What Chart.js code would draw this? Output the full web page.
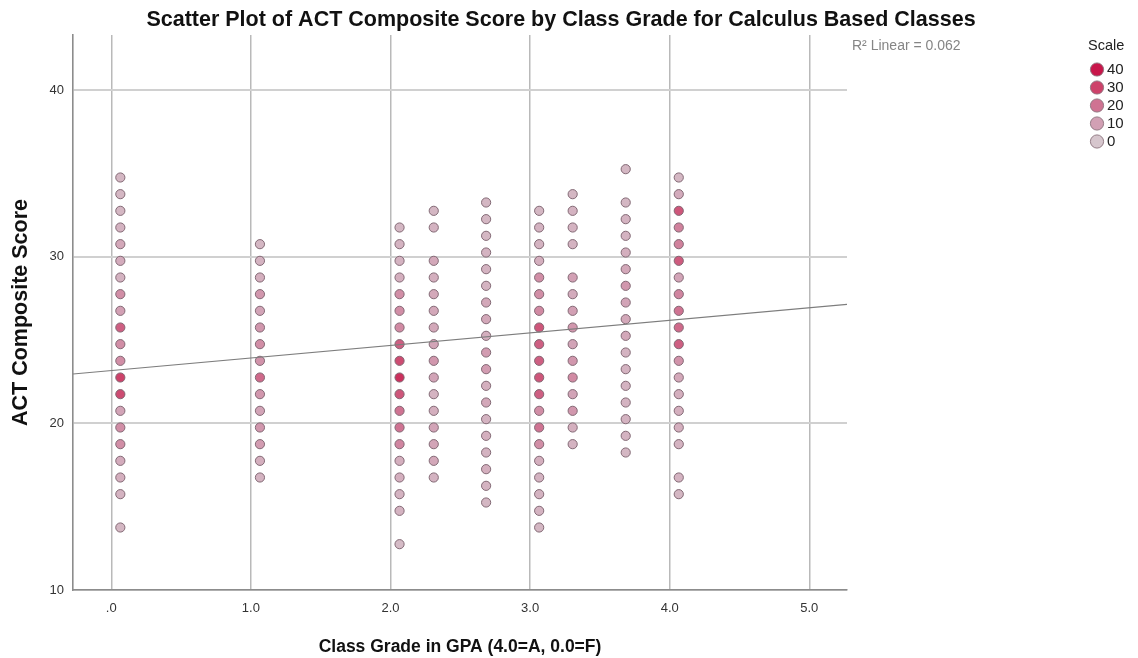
<!DOCTYPE html>
<html><head><meta charset="utf-8">
<script src="https://cdn.jsdelivr.net/npm/chart.js@4"></script>
<style>html,body{margin:0;padding:0;background:#fff}canvas{display:block}</style>
</head><body>
<canvas id="c" width="1138" height="658"></canvas>
<script>
// ---- data ----
const gradeX = [0.065, 1.065, 2.065, 2.31, 2.685, 3.065, 3.305, 3.685, 4.065];
const actF  = [34.75,33.75,32.75,31.75,30.75,29.75,28.75,27.75,26.75,25.75,24.75,23.75,22.75,21.75,20.75,19.75,18.75,17.75,16.75,15.75,13.75];
const cntF  = [4,4,4,5,8,7,5,14,10,24,14,14,30,28,9,14,14,7,6,5,4];
const actD  = [30.75,29.75,28.75,27.75,26.75,25.75,24.75,23.75,22.75,21.75,20.75,19.75,18.75,17.75,16.75];
const cntD  = [4,5,6,12,9,12,14,13,22,12,9,12,11,6,5];
const actC  = [31.75,30.75,29.75,28.75,27.75,26.75,25.75,24.75,23.75,22.75,21.75,20.75,19.75,18.75,17.75,16.75,15.75,14.75,12.75];
const cntC  = [4,5,5,6,14,14,15,24,28,34,26,20,20,16,6,6,5,5,3];
const actCp = [32.75,31.75,29.75,28.75,27.75,26.75,25.75,24.75,23.75,22.75,21.75,20.75,19.75,18.75,17.75,16.75];
const cntCp = [4,5,8,6,8,8,8,9,12,9,5,6,9,9,8,5];
const actBm = [33.25,32.25,31.25,30.25,29.25,28.25,27.25,26.25,25.25,24.25,23.25,22.25,21.25,20.25,19.25,18.25,17.25,16.25,15.25];
const cntBm = [4,4,4,5,5,5,8,8,6,11,11,6,8,5,6,5,6,5,4];
const actB  = [32.75,31.75,30.75,29.75,28.75,27.75,26.75,25.75,24.75,23.75,22.75,21.75,20.75,19.75,18.75,17.75,16.75,15.75,14.75,13.75];
const cntB  = [4,5,5,6,14,14,15,26,24,24,26,24,14,20,14,6,5,5,5,4];
const actBp = [33.75,32.75,31.75,30.75,28.75,27.75,26.75,25.75,24.75,23.75,22.75,21.75,20.75,19.75,18.75];
const cntBp = [4,5,5,5,10,7,10,12,9,12,15,9,12,6,5];
const actAm = [35.25,33.25,32.25,31.25,30.25,29.25,28.25,27.25,26.25,25.25,24.25,23.25,22.25,21.25,20.25,19.25,18.25];
const cntAm = [4,4,5,5,6,8,12,9,8,8,5,5,5,5,5,5,4];
const actA  = [34.75,33.75,32.75,31.75,30.75,29.75,28.75,27.75,26.75,25.75,24.75,23.75,22.75,21.75,20.75,19.75,18.75,16.75,15.75];
const cntA  = [4,7,26,17,17,25,9,16,20,22,24,13,8,6,6,6,5,5,4];
const fitLine = [{x:-0.274, y:22.96}, {x:5.27, y:27.14}];
const rSquared = '0.062';
const xTicks = [0,1,2,3,4,5];
const xTickLabels = ['.0','1.0','2.0','3.0','4.0','5.0'];
const yTicks = [10,20,30,40];
const legendValues = [40,30,20,10,0];

const columns = [
  [actF,cntF],[actD,cntD],[actC,cntC],[actCp,cntCp],[actBm,cntBm],
  [actB,cntB],[actBp,cntBp],[actAm,cntAm],[actA,cntA]
];

// colour scale for "Scale" (counts)
const stops = [[0,[214,198,205]],[10,[210,160,180]],[20,[207,115,146]],[30,[205,66,106]],[40,[200,22,74]]];
function scaleColor(v){
  for(let i=0;i<stops.length-1;i++){
    const [a,ca]=stops[i],[b,cb]=stops[i+1];
    if(v<=b||i===stops.length-2){
      const t=Math.max(0,Math.min(1,(v-a)/(b-a)));
      const c=ca.map((x,k)=>Math.round(x+(cb[k]-x)*t));
      return `rgb(${c[0]},${c[1]},${c[2]})`;
    }
  }
}

const FONT = '"Liberation Sans", Arial, sans-serif';

const datasets = columns.map(([ys,cs],i)=>({
  type:'scatter',
  data: ys.map(y=>({x:gradeX[i], y})),
  pointRadius:4.6,
  pointHoverRadius:4.6,
  pointBorderWidth:1,
  pointBorderColor:'rgba(125,100,112,0.95)',
  pointBackgroundColor: cs.map(scaleColor),
  order:2
}));
datasets.push({
  type:'line',
  data: fitLine,
  borderColor:'#7d7d7d',
  borderWidth:1.2,
  pointRadius:0,
  fill:false,
  order:1
});

const textPlugin = {
  id:'texts',
  afterDraw(chart){
    const ctx=chart.ctx;
    ctx.save();
    ctx.fillStyle='#111';
    ctx.font='bold 21.5px '+FONT;
    ctx.textAlign='center'; ctx.textBaseline='middle';
    ctx.fillText('Scatter Plot of ACT Composite Score by Class Grade for Calculus Based Classes', 561, 20);
    ctx.fillStyle='#858585';
    ctx.font='14px '+FONT;
    ctx.textAlign='left';
    ctx.fillText('R\u00B2 Linear = '+rSquared, 852, 46);
    ctx.fillStyle='#222';
    ctx.font='14.5px '+FONT;
    ctx.fillText('Scale', 1088, 46);
    legendValues.forEach((v,i)=>{
      const y=69.5+18*i;
      ctx.beginPath();
      ctx.arc(1097,y,6.6,0,Math.PI*2);
      ctx.fillStyle=scaleColor(v);
      ctx.fill();
      ctx.lineWidth=1;
      ctx.strokeStyle='rgba(140,115,125,0.9)';
      ctx.stroke();
      ctx.fillStyle='#222';
      ctx.font='15px '+FONT;
      ctx.fillText(String(v), 1107, y+0.5);
    });
    ctx.restore();
  }
};

new Chart(document.getElementById('c'), {
  data:{datasets},
  options:{
    responsive:false,
    animation:false,
    events:[],
    layout:{padding:{left:0,right:291,top:35,bottom:0}},
    plugins:{legend:{display:false},tooltip:{enabled:false},title:{display:false}},
    scales:{
      x:{
        type:'linear',
        min:-0.274, max:5.27,
        afterBuildTicks:s=>{s.ticks=xTicks.map(v=>({value:v}));},
        afterFit:s=>{s.height=68;},
        ticks:{padding:11,color:'#333',font:{family:FONT,size:13},
          callback:(v)=>{const i=xTicks.indexOf(v);return i>=0?xTickLabels[i]:'';}},
        grid:{color:'rgba(185,185,185,1)',lineWidth:1.5,drawTicks:false},
        border:{display:true,color:'#8c8c8c',width:1.6},
        title:{display:true,text:'Class Grade in GPA (4.0=A, 0.0=F)',color:'#111',
          font:{family:FONT,size:17.5,weight:'bold'},padding:{top:0,bottom:0}}
      },
      y:{
        type:'linear',
        min:10, max:43.3,
        afterBuildTicks:s=>{s.ticks=yTicks.map(v=>({value:v}));},
        afterFit:s=>{s.width=73;},
        ticks:{padding:9,color:'#333',font:{family:FONT,size:13}},
        grid:{color:'rgba(208,208,208,1)',lineWidth:2,drawTicks:false},
        border:{display:true,color:'#8c8c8c',width:1.6},
        title:{display:true,text:'ACT Composite Score',color:'#111',
          font:{family:FONT,size:21.5,weight:'bold'},padding:{top:8,bottom:0}}
      }
    }
  },
  plugins:[textPlugin]
});
</script>
</body></html>
